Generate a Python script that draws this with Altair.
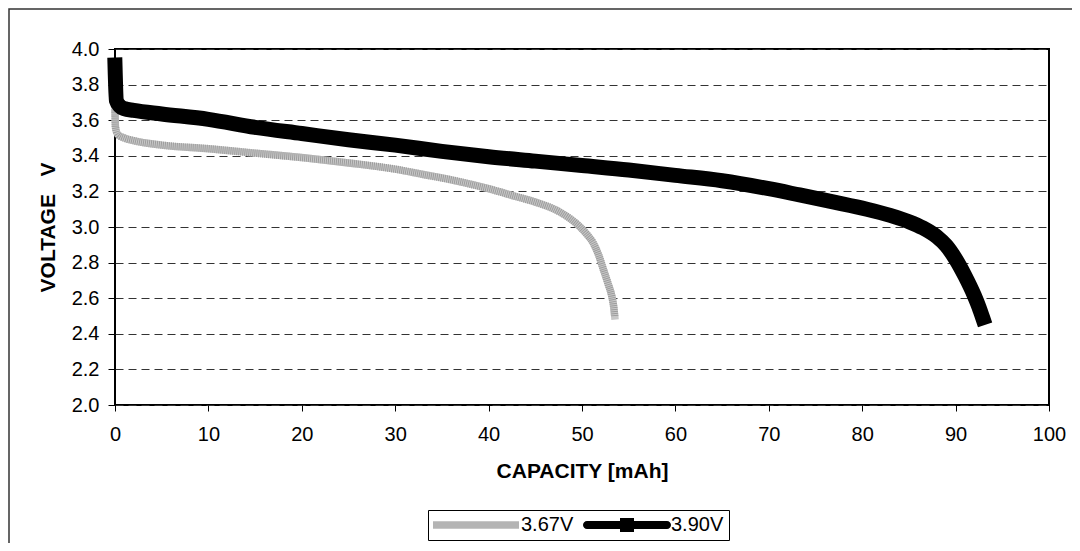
import altair as alt
import pandas as pd

# ---- data ----
series_names = ["3.67V", "3.90V"]

cap_367 = [0, 0.05, 0.3, 1, 2, 5, 10, 15, 20, 25, 30, 33, 35.9, 40, 43, 45,
           47.6, 49.8, 50.5, 51.2, 51.8, 52.3, 52.8, 53.2, 53.4, 53.5]
volt_367 = [3.66, 3.56, 3.52, 3.50, 3.485, 3.46, 3.44, 3.415, 3.39, 3.36, 3.325,
            3.295, 3.266, 3.215, 3.17, 3.14, 3.085, 3.0, 2.96, 2.91, 2.84, 2.76,
            2.68, 2.61, 2.55, 2.50]

cap_390 = [0, 0.15, 0.5, 1, 2, 5, 10, 15, 20, 25, 30, 35, 40, 45, 50, 55, 60, 65,
           70, 73.3, 77, 80.5, 83, 85, 86.5, 88, 89, 90, 91, 92, 92.5, 92.9]
volt_390 = [3.91, 3.71, 3.68, 3.665, 3.655, 3.635, 3.605, 3.56, 3.525, 3.49, 3.46,
            3.425, 3.395, 3.37, 3.345, 3.32, 3.29, 3.26, 3.215, 3.18, 3.14, 3.10,
            3.065, 3.03, 2.995, 2.945, 2.895, 2.82, 2.725, 2.615, 2.55, 2.49]

x_ticks = [0, 10, 20, 30, 40, 50, 60, 70, 80, 90, 100]
y_ticks = [2.0, 2.2, 2.4, 2.6, 2.8, 3.0, 3.2, 3.4, 3.6, 3.8, 4.0]

# ---- styling ----
FONT = "Liberation Sans"
W, H = 934, 356
series_colors = ["#b4b4b4", "#000000"]
# legend symbols (units of 10 px, symbol nominal box is [-1, 1])
gray_path = "M-1,-0.375H7.6V0.375H-1Z"
black_path = ("M-0.6,-0.4H2.7V-0.7H4.1V-0.4H7.4"
              "A0.4,0.4,0,0,1,7.4,0.4H4.1V0.7H2.7V0.4H-0.6"
              "A0.4,0.4,0,0,1,-0.6,-0.4Z")

df367 = pd.DataFrame({"cap": cap_367, "volt": volt_367, "series": series_names[0]})
df390 = pd.DataFrame({"cap": cap_390, "volt": volt_390, "series": series_names[1]})
both = pd.concat([df367, df390], ignore_index=True)

x_enc = alt.X(
    "cap:Q",
    scale=alt.Scale(domain=[0, 100], nice=False, zero=False),
    axis=alt.Axis(values=x_ticks, title="CAPACITY [mAh]", tickSize=6,
                  labelPadding=13, titlePadding=16, grid=False, labelFlush=False,
                  labelOverlap=False),
)
y_enc = alt.Y(
    "volt:Q",
    scale=alt.Scale(domain=[2, 4], nice=False, zero=False),
    axis=alt.Axis(values=y_ticks, format=".1f", title="VOLTAGE\u00a0\u00a0\u00a0V",
                  tickSize=7, labelPadding=9, titlePadding=13, grid=True,
                  labelOverlap=False),
)

frame = alt.Chart(alt.Data(values=[{"k": 1}])).mark_rect(
    filled=False, stroke="#333333", strokeWidth=1.5
).encode(
    x=alt.value(-106), x2=alt.value(W + 60),
    y=alt.value(-40), y2=alt.value(H + 200),
)

legend_carrier = alt.Chart(both).mark_point(filled=True, size=1, opacity=1).encode(
    x=x_enc, y=y_enc,
    color=alt.Color("series:N",
                    scale=alt.Scale(domain=series_names, range=series_colors),
                    legend=alt.Legend(title=None)),
    shape=alt.Shape("series:N",
                    scale=alt.Scale(domain=series_names, range=[gray_path, black_path]),
                    legend=alt.Legend(title=None)),
)

gray_base = alt.Chart(df367).mark_line(
    color="#c8c8c8", strokeWidth=7.5, strokeCap="square", strokeJoin="round",
    interpolate="monotone"
).encode(x=x_enc, y=y_enc, order="cap:Q")

gray_hatch = alt.Chart(df367).mark_line(
    color="#9c9c9c", strokeWidth=7.5, strokeCap="butt", strokeJoin="round",
    strokeDash=[1, 1], interpolate="monotone"
).encode(x=x_enc, y=y_enc, order="cap:Q")

black_line = alt.Chart(df390).mark_line(
    color="#000000", strokeWidth=15, strokeCap="square", strokeJoin="round",
    interpolate="monotone"
).encode(x=x_enc, y=y_enc, order="cap:Q")

chart = alt.layer(frame, legend_carrier, gray_base, gray_hatch, black_line).properties(
    width=W, height=H,
    autosize=alt.AutoSizeParams(type="none"),
    padding={"left": 107, "top": 41, "right": 23, "bottom": 138},
    background="white",
).configure_view(
    stroke="#000000", strokeWidth=2
).configure_axis(
    domain=False,
    tickColor="#000000", tickWidth=1,
    labelFont=FONT, labelFontSize=20, labelColor="#000000",
    titleFont=FONT, titleFontSize=21, titleFontWeight="bold", titleColor="#000000",
    gridColor="#333333", gridDash=[8, 5], gridWidth=1,
).configure_legend(
    orient="none", legendX=313, legendY=461, direction="horizontal",
    strokeColor="#000000", fillColor="#ffffff", padding=5,
    symbolSize=400, symbolStrokeWidth=0, symbolOpacity=1,
    labelFont=FONT, labelFontSize=20, labelColor="#000000",
    labelOffset=68, columnPadding=9,
)

chart.save("out.html", embed_options={"renderer": "svg", "actions": False})
